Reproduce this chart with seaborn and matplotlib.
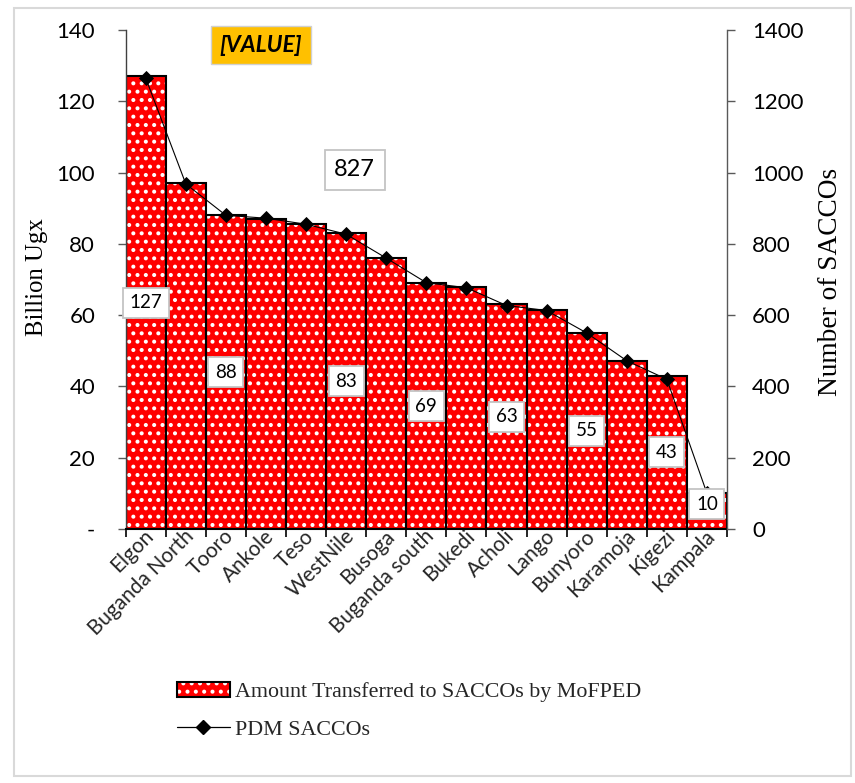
import matplotlib
matplotlib.use("Agg")
import matplotlib.pyplot as plt
import matplotlib.transforms as mtransforms
from matplotlib.patches import Patch, Rectangle
from matplotlib.lines import Line2D
from matplotlib.legend_handler import HandlerTuple
import seaborn as sns

# Regions, ordered by amount transferred
regions = ["Elgon", "Buganda North", "Tooro", "Ankole", "Teso", "WestNile",
           "Busoga", "Buganda south", "Bukedi", "Acholi", "Lango", "Bunyoro",
           "Karamoja", "Kigezi", "Kampala"]
# Amount transferred to SACCOs by MoFPED (billion Ugx)
amount = [127, 97, 88, 87, 85.5, 83, 76, 69, 68, 63, 61.5, 55, 47, 43, 10]
# Number of PDM SACCOs per region
saccos = [1265, 968, 880, 872, 855, 827, 760, 691, 677, 627, 613, 550, 472, 420, 100]
# Regions whose bar value is printed
labelled = ["Elgon", "Tooro", "WestNile", "Buganda south", "Acholi", "Bunyoro",
            "Kigezi", "Kampala"]

left_ticks = [0, 20, 40, 60, 80, 100, 120, 140]
left_ticklabels = ["-", "20", "40", "60", "80", "100", "120", "140"]
right_ticks = [0, 200, 400, 600, 800, 1000, 1200, 1400]

sns.set_theme(style="white")
plt.rcParams["font.family"] = ["Lato", "DejaVu Sans"]
plt.rcParams["hatch.linewidth"] = 1.7
plt.rcParams["hatch.color"] = "white"

SERIF = ["Liberation Serif", "DejaVu Serif"]
W, H = 855, 783

fig = plt.figure(figsize=(W / 100, H / 100), dpi=100)
fig.patch.set_facecolor("white")
ax = fig.add_axes([125.7 / W, 1 - 529 / H, (727 - 125.7) / W, (529 - 30) / H])

# Patterned red bars, then black outlines on top
sns.barplot(x=regions, y=amount, color="#ff0000", saturation=1, width=1.0,
            hatch="..", edgecolor="white", linewidth=0, errorbar=None, ax=ax)
sns.barplot(x=regions, y=amount, color="black", saturation=1, width=1.0,
            fill=False, linewidth=1.5, errorbar=None, ax=ax)

ax.set_xlim(-0.5, len(regions) - 0.5)
ax.set_ylim(0, 140)
ax.set_xlabel("")
ax.set_ylabel("")

# Secondary axis: number of SACCOs
ax2 = ax.twinx()
sns.pointplot(x=regions, y=saccos, color="black", markers="D", markersize=7,
              linewidth=0.8, errorbar=None, ax=ax2)
ax2.set_xlim(-0.5, len(regions) - 0.5)
ax2.set_ylim(0, 1400)
ax2.set_ylabel("")
ax2.set_xlabel("")

# Left axis ticks
ax.set_yticks(left_ticks)
ax.set_yticklabels(left_ticklabels)
ax.tick_params(axis="y", which="major", left=True, length=6, width=1,
               color="#595959", pad=16, labelsize=16, labelcolor="black")
ax2.set_yticks(right_ticks)
ax2.set_yticklabels([str(t) for t in right_ticks])
ax2.tick_params(axis="y", which="major", right=True, length=6, width=1,
                color="#595959", pad=12, labelsize=16, labelcolor="black")

# Category axis: tick marks between bars, labels under bar centres
ax.set_xticks([i - 0.5 for i in range(len(regions) + 1)])
ax.set_xticklabels([])
ax.set_xticks(range(len(regions)), minor=True)
ax.set_xticklabels(regions, minor=True, rotation=45, ha="right",
                   va="center", rotation_mode="anchor", fontsize=15)
ax.tick_params(axis="x", which="major", bottom=True, length=6, width=1.2,
               color="black")
ax.tick_params(axis="x", which="minor", bottom=False, length=0, pad=3)
shift = mtransforms.ScaledTranslation(5 / 100, 0, fig.dpi_scale_trans)
for lbl in ax.get_xticklabels(minor=True):
    lbl.set_transform(lbl.get_transform() + shift)
ax2.tick_params(axis="x", bottom=False, labelbottom=False)

for a in (ax, ax2):
    a.spines["top"].set_visible(False)
    a.grid(False)
ax.spines["left"].set_color("#404040")
ax.spines["left"].set_linewidth(1.0)
ax.spines["bottom"].set_color("black")
ax.spines["bottom"].set_linewidth(1.5)
ax.spines["right"].set_visible(False)
ax2.spines["left"].set_visible(False)
ax2.spines["bottom"].set_visible(False)
ax2.spines["right"].set_color("#595959")
ax2.spines["right"].set_linewidth(1.0)

# Value labels in the middle of selected bars (kept clear of the axis line)
box = dict(boxstyle="square,pad=0.35", fc="white", ec="#c4c4c4", lw=1.3)
for name in labelled:
    i = regions.index(name)
    v = amount[i]
    ax2.text(i, max(v / 2, 7), f"{v:g}", transform=ax.transData, ha="center",
             va="center", fontsize=13.5, color="black", bbox=box, zorder=10)

# Stray SACCO count label
iw = regions.index("WestNile")
ax2.text(0.381, 0.72, f"{saccos[iw]}", transform=ax.transAxes, ha="center",
         va="center", fontsize=17, color="black",
         bbox=dict(boxstyle="square,pad=0.4", fc="white", ec="#c4c4c4", lw=1.3),
         zorder=10)

# Placeholder callout
fig.text(261 / W, 1 - 45 / H, "[VALUE]", ha="center", va="center",
         fontsize=16.5, fontweight="bold", fontstyle="italic", color="black",
         bbox=dict(boxstyle="square,pad=0.38", fc="#ffc000", ec="#d0d0d0", lw=1))

# Axis titles
fig.text(37 / W, 1 - 277 / H, "Billion Ugx", rotation=90, ha="center",
         va="center", fontsize=17.8, family=SERIF, color="black")
fig.text(830 / W, 1 - 282 / H, "Number of SACCOs", rotation=90, ha="center",
         va="center", fontsize=19.7, family=SERIF, color="black")

# Legend
bar_handle = (Patch(facecolor="#ff0000", edgecolor="white", hatch="..", lw=0),
              Patch(facecolor="none", edgecolor="black", lw=1.5))
line_handle = Line2D([], [], color="black", lw=0.9, marker="D", markersize=7)
fig.legend([bar_handle, line_handle],
           ["Amount Transferred to SACCOs by MoFPED", "PDM SACCOs"],
           handler_map={tuple: HandlerTuple(ndivide=1, pad=0)},
           loc="upper left", bbox_to_anchor=(177 / W, 1 - 682 / H),
           frameon=False, prop={"family": SERIF, "size": 15.8},
           handlelength=2.4, handleheight=0.65, handletextpad=0.25,
           labelspacing=0.8, borderpad=0, borderaxespad=0)

# Light frame round the chart area
fig.add_artist(Rectangle((14 / W, 1 - 776 / H), (851 - 14) / W, (776 - 8) / H,
                         transform=fig.transFigure, fill=False,
                         ec="#d9d9d9", lw=1.5))

fig.savefig("out.png", dpi=100, facecolor="white")
